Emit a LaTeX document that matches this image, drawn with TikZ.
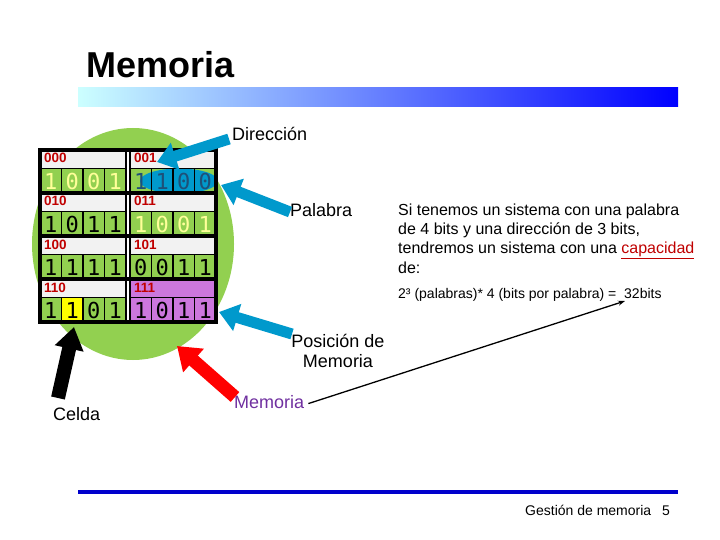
\documentclass[tikz,border=0pt]{standalone}
\usepackage{fontspec}
\setmainfont{Liberation Sans}
\newfontfamily\digitfont{DejaVu Sans Mono}
\usetikzlibrary{arrows.meta}
\definecolor{cgreen}{RGB}{146,208,80}
\definecolor{cgray}{RGB}{242,242,242}
\definecolor{cpurple}{RGB}{204,119,221}
\definecolor{cyel}{RGB}{255,255,0}
\definecolor{clyel}{RGB}{255,255,153}
\definecolor{cred}{RGB}{192,0,0}
\definecolor{cblue}{RGB}{0,153,204}
\definecolor{cdblue}{RGB}{30,80,120}
\definecolor{cviolet}{RGB}{112,48,160}
\definecolor{cline}{RGB}{0,0,204}
\definecolor{cgradL}{RGB}{204,255,255}
\definecolor{cgradR}{RGB}{0,0,255}
\definecolor{carrred}{RGB}{255,0,0}
\tikzset{
  lbl/.style={anchor=base west, inner sep=0pt, font=\fontsize{18}{20}\selectfont},
  para/.style={anchor=base west, inner sep=0pt, font=\fontsize{16}{19}\selectfont},
  addr/.style={anchor=base west, inner sep=0pt, text=cred, font=\fontsize{13.5}{14}\selectfont\bfseries},
  digit/.style={inner sep=0pt, font=\digitfont\fontsize{22}{22}\selectfont},
  bigarrow/.style={line width=11pt, -{Triangle[length=19pt,width=27pt]}},
}
\def\gridrows{0/{1/cgreen/clyel,0/cgreen/clyel,0/cgreen/clyel,1/cgreen/clyel,1/cgreen/cdblue,1/cgreen/cdblue,0/cgreen/cdblue,0/cgreen/cdblue},
1/{1/cgreen/black,0/cgreen/black,1/cgreen/black,1/cgreen/black,1/cgreen/clyel,0/cgreen/clyel,0/cgreen/clyel,1/cgreen/clyel},
2/{1/cgreen/black,1/cgreen/black,1/cgreen/black,1/cgreen/black,0/cgreen/black,0/cgreen/black,1/cgreen/black,1/cgreen/black},
3/{1/cgreen/black,1/cyel/black,0/cgreen/black,1/cgreen/black,1/cpurple/black,0/cpurple/black,1/cpurple/black,1/cpurple/black}}
\def\addrrows{0/000/cgray/001/cgray,1/010/cgray/011/cgray,2/100/cgray/101/cgray,3/110/cgray/111/cpurple}
\begin{document}
\begin{tikzpicture}[x=1pt,y=-1pt]
\useasboundingbox (0,0) rectangle (720,540);
\fill[white] (0,0) rectangle (720,540);
% title and bars
\node[anchor=base west, inner sep=0pt, font=\fontsize{36}{40}\selectfont\bfseries] (title) at (86,78) {Memoria};
\shade[left color=cgradL, right color=cgradR] (78,88) rectangle (678,107);
\fill[cline] (78,489.5) rectangle (678,494);
\node[anchor=base west, inner sep=0pt, font=\fontsize{14}{16}\selectfont] (foot) at (525,515) {Gestión de memoria};
\node[anchor=base west, inner sep=0pt, font=\fontsize{14}{16}\selectfont] (page) at (662,515) {5};
% green disc
\fill[cgreen] (133,244) ellipse [x radius=101pt, y radius=116pt];
% address rows
\foreach \b/\la/\ca/\lb/\cb in \addrrows {
  \pgfmathsetmacro\t{150+43*\b}
  \fill[\ca] (40,\t) rectangle (126,\t+18.75);
  \fill[\cb] (130,\t) rectangle (216,\t+18.75);
  \fill[white] (126,\t) rectangle (130,\t+43);
  \node[addr] (a\b a) at (44,\t+13) {\la};
  \node[addr] (a\b b) at (134,\t+13) {\lb};
}
% data cell fills
\foreach \b/\row in \gridrows {
  \pgfmathsetmacro\t{150+43*\b}
  \foreach \v/\bg/\fg [count=\i from 0] in \row {
    \pgfmathsetmacro\xa{ifthenelse(\i<4,40+21.5*\i,130+21.5*(\i-4))}
    \fill[\bg] (\xa,\t+18.75) rectangle ++(21.5,24.25);
  }
}
% highlighted word
\fill[cblue] (179,181) ellipse [x radius=39pt, y radius=12.5pt];
% cell borders and digits
\foreach \b/\row in \gridrows {
  \pgfmathsetmacro\t{150+43*\b}
  \foreach \v/\bg/\fg [count=\i from 0] in \row {
    \pgfmathsetmacro\xa{ifthenelse(\i<4,40+21.5*\i,130+21.5*(\i-4))}
    \draw[line width=1.3pt] (\xa,\t+18.75) rectangle ++(21.5,24.25);
    \node[digit, text=\fg] (d\b\i) at (\xa+10.75,\t+31.5) {\v};
  }
}
% frame lines
\foreach \b in {1,2,3} {
  \draw[line width=3.5pt] (40,150+43*\b) -- (216,150+43*\b);
}
\draw[line width=1.5pt] (126,150) -- (126,322);
\draw[line width=1.5pt] (130,150) -- (130,322);
\draw[line width=3.5pt] (40,150) rectangle (216,322);
% labels
\node[lbl] (dir) at (232,141) {Dirección};
\node[lbl] (pal) at (290,217) {Palabra};
\node[lbl, anchor=base] (pos1) at (338,347) {Posición de};
\node[lbl, anchor=base] (pos2) at (338,367) {Memoria};
\node[lbl] (celda) at (53,420) {Celda};
\node[lbl, text=cviolet] (mem) at (234,408) {Memoria};
% paragraph
\node[para] (p1) at (398,215) {Si tenemos un sistema con una palabra};
\node[para] (p2) at (398,234.5) {de 4 bits y una dirección de 3 bits,};
\node[para] (p3) at (398,253.5) {tendremos un sistema con una \textcolor{cred}{\underline{capacidad}}};
\node[para] (p4) at (398,273) {de:};
\node[anchor=base west, inner sep=0pt, font=\fontsize{14}{16}\selectfont] (form) at (398,298.5) {2³ (palabras)* 4 (bits por palabra) =\ \ 32bits};
% arrows
\coordinate (dirT) at (229,139);
\coordinate (dirH) at (157,162);
\coordinate (palT) at (290,212);
\coordinate (palH) at (221,185);
\coordinate (posT) at (292,334);
\coordinate (posH) at (219,312);
\coordinate (memT) at (235,397);
\coordinate (memH) at (177,346);
\coordinate (celT) at (58,398);
\coordinate (celH) at (74,327);
\coordinate (capH) at (625,301);
\draw[bigarrow, cblue] (dirT) -- (dirH);
\draw[bigarrow, cblue] (palT) -- (palH);
\draw[bigarrow, cblue] (posT) -- (posH);
\draw[line width=13pt, -{Triangle[length=22pt,width=30pt]}, carrred] (memT) -- (memH);
\draw[line width=14pt, -{Triangle[length=22pt,width=28pt]}, black] (celT) -- (celH);
\draw[line width=1.3pt, -{Stealth[length=7pt,width=5pt]}] ([xshift=4pt,yshift=-2pt]mem.east) -- (capH);
\end{tikzpicture}
\end{document}
